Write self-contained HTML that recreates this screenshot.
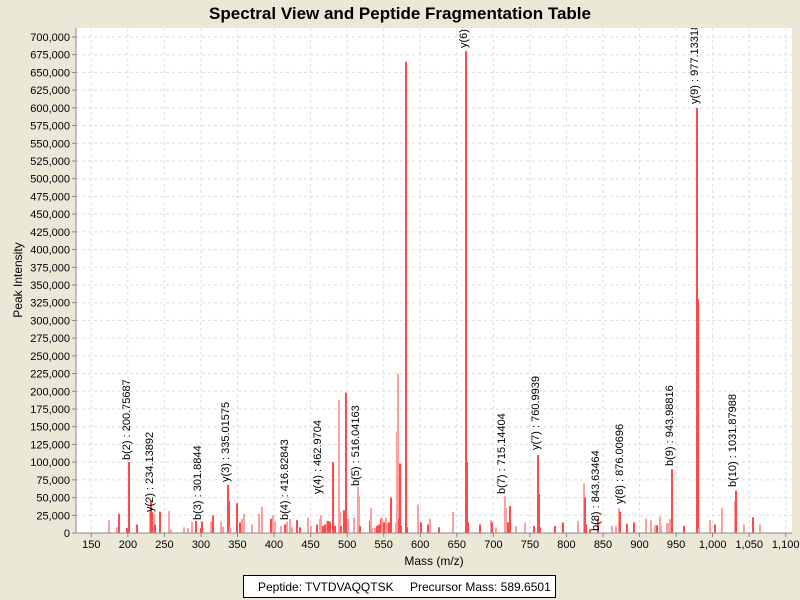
<!DOCTYPE html>
<html><head><meta charset="utf-8"><style>
html,body{margin:0;padding:0;background:#ebe8d8;}
svg{display:block;font-family:"Liberation Sans",Arial,sans-serif;}
</style></head><body>
<svg id="s" width="800" height="600" xmlns="http://www.w3.org/2000/svg">
<rect width="800" height="600" fill="#ebe8d8"/>
<rect x="76" y="28" width="716" height="505" fill="#ffffff"/>
<defs><clipPath id="cp"><rect x="76" y="28" width="716" height="505"/></clipPath></defs>
<g id="grid"></g>
<g id="peaks" clip-path="url(#cp)"></g>
<g clip-path="url(#cp)" font-size="11" fill="#000">
<text transform="translate(130,460) rotate(-90)">b(2) : 200.75687</text>
<text transform="translate(153,512) rotate(-90)">y(2) : 234.13892</text>
<text transform="translate(201,520) rotate(-90)">b(3) : 301.8844</text>
<text transform="translate(229,482) rotate(-90)">y(3) : 335.01575</text>
<text transform="translate(288,520) rotate(-90)">b(4) : 416.82843</text>
<text transform="translate(321,494) rotate(-90)">y(4) : 462.9704</text>
<text transform="translate(359,486) rotate(-90)">b(5) : 516.04163</text>
<text transform="translate(467,48) rotate(-90)">y(6) : 662.3409</text>
<text transform="translate(505,494) rotate(-90)">b(7) : 715.14404</text>
<text transform="translate(539,450) rotate(-90)">y(7) : 760.9939</text>
<text transform="translate(599,531) rotate(-90)">b(8) : 843.63464</text>
<text transform="translate(623,504) rotate(-90)">y(8) : 876.00696</text>
<text transform="translate(673,466) rotate(-90)">b(9) : 943.98816</text>
<text transform="translate(698,104) rotate(-90)">y(9) : 977.13318</text>
<text transform="translate(736,487) rotate(-90)">b(10) : 1031.87988</text>
</g>
<line x1="76" y1="28" x2="76" y2="533" stroke="#888" stroke-width="1"/>
<line x1="76" y1="533" x2="792" y2="533" stroke="#888" stroke-width="1"/>
<text x="400" y="19" font-size="17" font-weight="bold" text-anchor="middle">Spectral View and Peptide Fragmentation Table</text>
<g font-size="11" text-anchor="end" fill="#000">
<text x="70" y="537">0</text><text x="70" y="519.3">25,000</text><text x="70" y="501.6">50,000</text><text x="70" y="483.9">75,000</text><text x="70" y="466.1">100,000</text><text x="70" y="448.4">125,000</text><text x="70" y="430.7">150,000</text><text x="70" y="413">175,000</text><text x="70" y="395.3">200,000</text><text x="70" y="377.6">225,000</text><text x="70" y="359.9">250,000</text><text x="70" y="342.1">275,000</text><text x="70" y="324.4">300,000</text><text x="70" y="306.7">325,000</text><text x="70" y="289">350,000</text><text x="70" y="271.3">375,000</text><text x="70" y="253.6">400,000</text><text x="70" y="235.8">425,000</text><text x="70" y="218.1">450,000</text><text x="70" y="200.4">475,000</text><text x="70" y="182.7">500,000</text><text x="70" y="165">525,000</text><text x="70" y="147.3">550,000</text><text x="70" y="129.6">575,000</text><text x="70" y="111.8">600,000</text><text x="70" y="94.1">625,000</text><text x="70" y="76.4">650,000</text><text x="70" y="58.7">675,000</text><text x="70" y="41">700,000</text>
</g>
<g font-size="11" text-anchor="middle" fill="#000">
<text x="91.3" y="548">150</text><text x="127.9" y="548">200</text><text x="164.4" y="548">250</text><text x="201" y="548">300</text><text x="237.5" y="548">350</text><text x="274" y="548">400</text><text x="310.6" y="548">450</text><text x="347.2" y="548">500</text><text x="383.7" y="548">550</text><text x="420.2" y="548">600</text><text x="456.8" y="548">650</text><text x="493.4" y="548">700</text><text x="529.9" y="548">750</text><text x="566.4" y="548">800</text><text x="603" y="548">850</text><text x="639.6" y="548">900</text><text x="676.1" y="548">950</text><text x="712.7" y="548">1,000</text><text x="749.2" y="548">1,050</text><text x="785.7" y="548">1,100</text>
</g>
<text x="434" y="565" font-size="12" text-anchor="middle">Mass (m/z)</text>
<text transform="translate(22,280) rotate(-90)" font-size="12" text-anchor="middle">Peak Intensity</text>
<rect x="243.5" y="575.5" width="312" height="22" fill="#fff" stroke="#000" stroke-width="1"/>
<text x="258" y="591" font-size="12">Peptide: TVTDVAQQTSK</text>
<text x="410" y="591" font-size="12">Precursor Mass: 589.6501</text>
</svg>
<script>
var NS="http://www.w3.org/2000/svg",g=document.getElementById("grid"),p=document.getElementById("peaks");
function ln(par,x1,y1,x2,y2,c,w,d){var l=document.createElementNS(NS,"line");l.setAttribute("x1",x1);l.setAttribute("y1",y1);l.setAttribute("x2",x2);l.setAttribute("y2",y2);l.setAttribute("stroke",c);l.setAttribute("stroke-width",w);if(d)l.setAttribute("stroke-dasharray",d);par.appendChild(l);}
for(var k=0;k<=28;k++){var y=533-k*17.7146;ln(g,76,y,792,y,"#ddd",1,"3,3");ln(g,72,y,76,y,"#888",1);}
for(var k=0;k<20;k++){var x=91.3+k*36.55;ln(g,x,28,x,533,"#ddd",1,"3,3");ln(g,x,533,x,537,"#888",1);}
var D="#ff4a4a",L="#ffa0a0";
var pk=[[109,18,L],[117,8,L],[119,27,D],[127,7,D],[129,100,D],[137,12,D],[150,32,L],[151,45,D],[152,30,D],[154,27,L],[155,12,D],[160,30,D],[169,31,L],[171,5,L],[184,8,L],[188,7,L],[192,16,L],[196,17,D],[201,7,D],[202,16,D],[211,16,L],[213,25,D],[221,16,L],[223,9,L],[228,68,D],[229,45,D],[230,9,L],[237,42,D],[240,15,D],[242,20,L],[244,27,L],[252,12,L],[259,27,L],[262,37,L],[271,20,D],[273,25,L],[275,16,L],[281,10,L],[285,12,D],[287,16,L],[290,20,L],[292,8,L],[297,18,D],[300,8,D],[308,22,L],[311,10,L],[317,12,D],[320,20,L],[321,25,L],[323,10,D],[325,12,D],[327,17,L],[328,17,D],[330,16,D],[333,100,D],[335,10,D],[339,188,L],[340,30,L],[341,10,D],[344,32,D],[346,198,D],[348,20,L],[354,22,L],[358,65,L],[359,52,L],[360,10,D],[370,17,D],[371,35,L],[372,7,L],[375,7,L],[377,10,D],[379,12,D],[381,20,D],[382,22,L],[384,15,D],[385,9,D],[386,22,L],[388,15,L],[389,15,D],[390,12,D],[391,50,D],[396,15,L],[397,143,L],[398,225,L],[399,20,D],[400,98,D],[401,10,D],[406,665,D],[407,8,D],[418,40,L],[421,15,D],[428,12,D],[430,20,L],[439,8,D],[453,30,L],[466,680,D],[467,100,D],[468,15,D],[480,12,D],[491,18,L],[492,15,D],[496,8,L],[505,52,L],[506,35,L],[508,15,D],[510,38,D],[516,10,L],[525,15,L],[534,10,D],[538,110,D],[539,55,D],[540,8,D],[555,10,D],[563,15,D],[578,17,L],[584,70,L],[585,50,D],[586,12,D],[590,5,D],[598,20,D],[612,10,L],[616,10,L],[619,35,L],[620,30,D],[627,13,D],[634,15,D],[646,20,L],[651,18,L],[655,11,L],[657,11,D],[660,23,L],[661,10,L],[667,14,L],[669,14,L],[670,20,L],[672,90,D],[684,10,D],[697,600,D],[698,330,D],[699,8,L],[710,18,L],[715,12,D],[722,35,L],[735,45,L],[736,60,D],[744,12,L],[753,22,D],[760,12,L]];
pk.forEach(function(a){ln(p,a[0],533,a[0],533-a[1]*0.70858,a[2],2);});
</script>
</body></html>
